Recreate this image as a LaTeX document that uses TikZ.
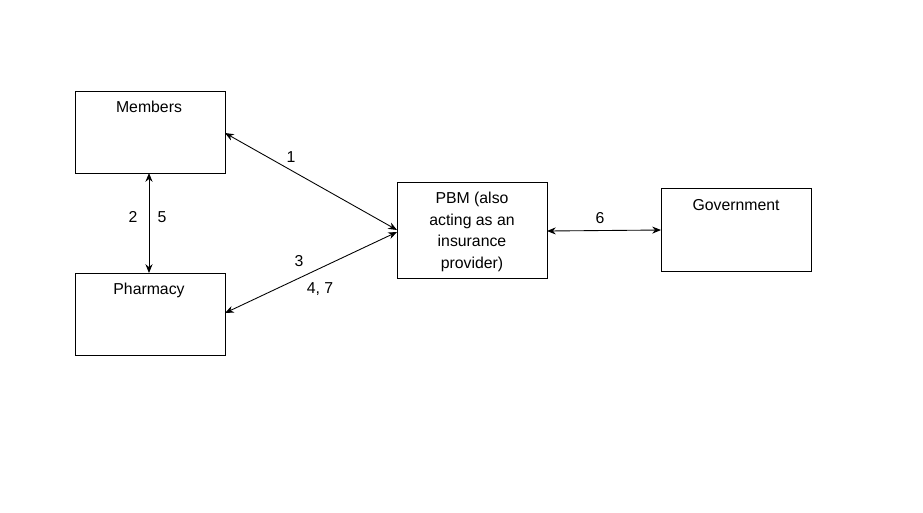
\documentclass[tikz,border=0pt]{standalone}
\usepackage{fontspec}
\setmainfont{Liberation Sans}
\usetikzlibrary{arrows.meta}
\begin{document}
\begin{tikzpicture}[x=0.02cm,y=-0.02cm,
  box/.style={draw,line width=0.5pt},
  lab/.style={font=\fontsize{9}{11}\selectfont,inner sep=0pt},
  con/.style={line width=0.5pt,{Stealth[length=5pt,width=4pt]}-{Stealth[length=5pt,width=4pt]}}]
\useasboundingbox (0,0) rectangle (923,512);
\draw[box] (75,91) rectangle (225,173);
\draw[box] (75,273) rectangle (225,355);
\draw[box] (397,182) rectangle (547,278);
\draw[box] (661,188) rectangle (811,271);
\node[lab] (mem) at (149,107) {Members};
\node[lab] (pha) at (149,290) {Pharmacy};
\node[lab,align=center,font=\fontsize{9}{12.3}\selectfont] (pbm) at (472,232) {PBM (also\\acting as an\\insurance\\provider)};
\node[lab] (gov) at (736,205) {Government};
\coordinate (m1) at (225,133);
\coordinate (p1) at (397,230);
\coordinate (h1) at (225,313);
\coordinate (p2) at (397,232);
\coordinate (mb) at (149,173);
\coordinate (ht) at (149,273);
\coordinate (pr) at (547,231);
\coordinate (gl) at (661,230);
\draw[con] (m1) -- (p1);
\draw[con] (h1) -- (p2);
\draw[con] (mb) -- (ht);
\draw[con] (pr) -- (gl);
\node[lab] (l1) at (291,157) {1};
\node[lab] (l2) at (133,217) {2};
\node[lab] (l5) at (162,217) {5};
\node[lab] (l3) at (299,261) {3};
\node[lab] (l47) at (320,289) {4, 7};
\node[lab] (l6) at (600,218) {6};
\end{tikzpicture}
\end{document}
